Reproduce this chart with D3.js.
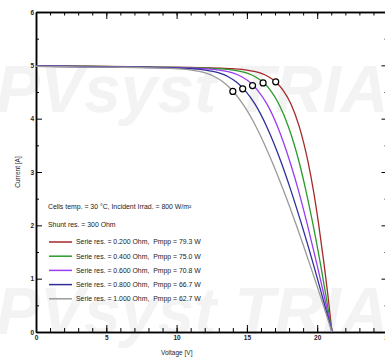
<!DOCTYPE html>
<html>
<head>
<meta charset="utf-8">
<script src="https://cdn.jsdelivr.net/npm/d3@7"></script>
<style>
  html, body { margin: 0; padding: 0; background: #fff; }
  svg { display: block; font-family: "Liberation Sans", Arial, sans-serif; }
  .axis text { font-size: 6.5px; fill: #1c1c2c; }
  .axis line, .axis path { stroke: #000; }
</style>
</head>
<body>
<div id="chart"></div>
<script>
(function () {
  // data
  const serieRes = [0.2, 0.4, 0.6, 0.8, 1.0];
  const pmpp = [79.3, 75.0, 70.8, 66.7, 62.7];
  const currentA = [4.99, 4.983, 4.967, 4.959, 4.948, 4.936, 4.911, 4.886, 4.848, 4.786,
                    4.687, 4.527, 4.267, 3.845, 3.160, 2.670, 2.045, 1.250, 0.670, 0];
  const voltRed    = [0, 4.00, 9.01, 11.01, 13.01, 14.01, 15.02, 15.52, 16.03, 16.54,
                      17.06, 17.59, 18.15, 18.73, 19.37, 19.72, 20.09, 20.50, 20.77, 21.05];
  const voltGreen  = [0, 3.01, 8.01, 10.02, 12.02, 13.03, 14.04, 14.55, 15.06, 15.59,
                      16.13, 16.69, 17.29, 17.96, 18.74, 19.18, 19.68, 20.25, 20.63, 21.05];
  const voltPurple = [0, 2.01, 7.02, 9.02, 11.03, 12.04, 13.05, 13.57, 14.09, 14.63,
                      15.19, 15.78, 16.44, 17.19, 18.10, 18.65, 19.27, 20.00, 20.50, 21.05];
  const voltBlue   = [0, 1.01, 6.03, 8.03, 10.04, 11.05, 12.07, 12.59, 13.12, 13.67,
                      14.25, 14.88, 15.59, 16.42, 17.47, 18.11, 18.86, 19.75, 20.36, 21.05];
  const voltGray   = [0, 0.02, 5.03, 7.04, 9.05, 10.06, 11.09, 11.61, 12.15, 12.71,
                      13.31, 13.97, 14.73, 15.66, 16.84, 17.58, 18.46, 19.50, 20.23, 21.05];
  const mppV = [17.05, 16.15, 15.40, 14.70, 14.00];
  const mppI = [4.69, 4.67, 4.62, 4.56, 4.51];
  const xTicks = [0, 5, 10, 15, 20, 25];
  const yTicks = [0, 1, 2, 3, 4, 5, 6];

  const volts = [voltRed, voltGreen, voltPurple, voltBlue, voltGray];
  const colors = ['#a32a2a', '#2a9a2a', '#9a3cf0', '#2e2e9a', '#9a9a9a'];

  const width = 385, height = 358;
  const margin = { top: 12, right: -2.5, bottom: 26, left: 36 };
  const innerW = width - margin.left - margin.right;
  const innerH = height - margin.top - margin.bottom;

  const svg = d3.select('#chart').append('svg')
    .attr('width', width).attr('height', height);

  // watermark (faint, behind everything)
  const wm = svg.append('g').attr('fill', '#f3f3f3')
    .style('font-weight', 'bold').style('font-style', 'italic')
    .style('font-size', '66px');
  wm.append('text').attr('x', -4).attr('y', 112).text('PVsyst TRIAL');
  wm.append('text').attr('x', -4).attr('y', 334).text('PVsyst TRIAL');

  const g = svg.append('g').attr('transform', `translate(${margin.left},${margin.top})`);

  const x = d3.scaleLinear().domain([0, 25]).range([0, innerW]);
  const y = d3.scaleLinear().domain([0, 6]).range([innerH, 0]);

  // frame + ticks (inward on all sides)
  g.append('g').attr('class', 'axis').attr('transform', `translate(0,${innerH})`)
    .call(d3.axisBottom(x).tickValues(d3.range(0, 26)).tickSize(-4).tickSizeOuter(0).tickFormat(''));
  g.append('g').attr('class', 'axis').attr('transform', `translate(0,${innerH})`)
    .call(d3.axisBottom(x).tickValues(xTicks).tickSize(-7).tickSizeOuter(0).tickPadding(3).tickFormat(d3.format('d')));
  g.append('g').attr('class', 'axis')
    .call(d3.axisTop(x).tickValues(d3.range(0, 26)).tickSize(-3.5).tickSizeOuter(0).tickFormat(''));
  g.append('g').attr('class', 'axis')
    .call(d3.axisTop(x).tickValues(xTicks).tickSize(-7).tickSizeOuter(0).tickFormat(''));
  g.append('g').attr('class', 'axis')
    .call(d3.axisLeft(y).tickValues(d3.range(0.5, 6, 1)).tickSize(-3).tickSizeOuter(0).tickFormat(''));
  g.append('g').attr('class', 'axis')
    .call(d3.axisLeft(y).tickValues(yTicks).tickSize(-6).tickSizeOuter(0).tickPadding(2).tickFormat(d3.format('d')));
  g.append('g').attr('class', 'axis').attr('transform', `translate(${innerW},0)`)
    .call(d3.axisRight(y).tickValues(d3.range(0.5, 6, 1)).tickSize(-3).tickSizeOuter(0).tickFormat(''));
  g.append('g').attr('class', 'axis').attr('transform', `translate(${innerW},0)`)
    .call(d3.axisRight(y).tickValues(yTicks).tickSize(-6).tickSizeOuter(0).tickFormat(''));
  g.selectAll('.axis path').attr('stroke-width', 1.5);
  g.selectAll('.axis line').attr('stroke-width', 1);
  g.selectAll('.axis text').style('font-weight', 'bold');

  // axis titles
  g.append('text').attr('x', innerW / 2 - 35).attr('y', innerH + 23)
    .attr('text-anchor', 'middle').attr('font-size', 6.5).attr('fill', '#1c1c2c')
    .text('Voltage [V]');
  g.append('text').attr('transform', 'rotate(-90)')
    .attr('x', -innerH / 2).attr('y', -16)
    .attr('text-anchor', 'middle').attr('font-size', 6.5).attr('fill', '#1c1c2c')
    .text('Current [A]');

  // curves
  const line = d3.line().x(d => x(d[0])).y(d => y(d[1])).curve(d3.curveMonotoneX);
  volts.forEach((vs, i) => {
    g.append('path')
      .datum(vs.map((v, k) => [v, currentA[k]]))
      .attr('fill', 'none').attr('stroke', colors[i]).attr('stroke-width', 1.3)
      .attr('d', line);
  });

  // max power points
  g.selectAll('circle.mpp').data(mppV).join('circle').attr('class', 'mpp')
    .attr('cx', d => x(d)).attr('cy', (d, i) => y(mppI[i])).attr('r', 3)
    .attr('fill', '#fff').attr('stroke', '#000').attr('stroke-width', 1.2);

  // legend
  const lg = svg.append('g').attr('font-size', 6.9).attr('fill', '#222');
  lg.append('text').attr('x', 48).attr('y', 209)
    .text('Cells temp. = 30 °C, Incident Irrad. = 800 W/m²');
  lg.append('text').attr('x', 48).attr('y', 226.5).text('Shunt res. = 300 Ohm');
  serieRes.forEach((r, i) => {
    const yy = 242 + i * 14.2;
    lg.append('line').attr('x1', 49).attr('x2', 72).attr('y1', yy).attr('y2', yy)
      .attr('stroke', colors[i]).attr('stroke-width', 1.5);
    lg.append('text').attr('x', 76).attr('y', yy + 2.3)
      .text(`Serie res. = ${r.toFixed(3)} Ohm,\u00a0 Pmpp = ${pmpp[i].toFixed(1)} W`);
  });
})();
</script>
</body>
</html>
